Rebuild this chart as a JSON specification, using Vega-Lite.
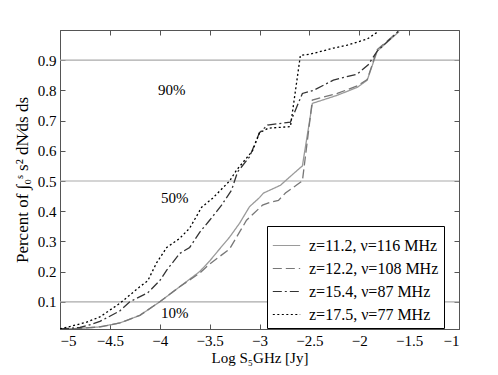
{
  "$schema": "https://vega.github.io/schema/vega-lite/v6.json",
  "width": 399,
  "height": 299,
  "autosize": {"type": "none"},
  "padding": {"left": 60, "top": 30, "right": 39, "bottom": 46},
  "background": "white",
  "config": {
    "view": {"stroke": "#555", "strokeWidth": 1},
    "font": "Liberation Serif",
    "axis": {
      "labelFont": "Liberation Serif", "titleFont": "Liberation Serif",
      "labelFontSize": 15, "titleFontSize": 15, "titleFontWeight": "normal",
      "labelColor": "black", "titleColor": "black",
      "domainColor": "#555", "tickColor": "#555", "tickSize": -5,
      "grid": false
    },
    "legend": {
      "orient": "none", "legendX": 207, "legendY": 196,
      "strokeColor": "black", "fillColor": "white", "padding": 5,
      "labelFont": "Liberation Serif", "labelFontSize": 16, "labelColor": "black", "labelOffset": 8,
      "symbolType": "stroke", "symbolSize": 750, "symbolStrokeWidth": 1.2,
      "rowPadding": 0, "title": null
    }
  },
  "datasets": {
    "curves": [
      {"s": "z=11.2, ν=116 MHz", "x": -5.0, "y": 0.01},
      {"s": "z=11.2, ν=116 MHz", "x": -4.8, "y": 0.012},
      {"s": "z=11.2, ν=116 MHz", "x": -4.6, "y": 0.017},
      {"s": "z=11.2, ν=116 MHz", "x": -4.4, "y": 0.03},
      {"s": "z=11.2, ν=116 MHz", "x": -4.2, "y": 0.055},
      {"s": "z=11.2, ν=116 MHz", "x": -4.0, "y": 0.10},
      {"s": "z=11.2, ν=116 MHz", "x": -3.8, "y": 0.15},
      {"s": "z=11.2, ν=116 MHz", "x": -3.6, "y": 0.20},
      {"s": "z=11.2, ν=116 MHz", "x": -3.5, "y": 0.235},
      {"s": "z=11.2, ν=116 MHz", "x": -3.4, "y": 0.275},
      {"s": "z=11.2, ν=116 MHz", "x": -3.3, "y": 0.314},
      {"s": "z=11.2, ν=116 MHz", "x": -3.2, "y": 0.36},
      {"s": "z=11.2, ν=116 MHz", "x": -3.1, "y": 0.415},
      {"s": "z=11.2, ν=116 MHz", "x": -3.0, "y": 0.445},
      {"s": "z=11.2, ν=116 MHz", "x": -2.96, "y": 0.46},
      {"s": "z=11.2, ν=116 MHz", "x": -2.79, "y": 0.486},
      {"s": "z=11.2, ν=116 MHz", "x": -2.64, "y": 0.53},
      {"s": "z=11.2, ν=116 MHz", "x": -2.57, "y": 0.55},
      {"s": "z=11.2, ν=116 MHz", "x": -2.47, "y": 0.757},
      {"s": "z=11.2, ν=116 MHz", "x": -2.22, "y": 0.784},
      {"s": "z=11.2, ν=116 MHz", "x": -2.02, "y": 0.81},
      {"s": "z=11.2, ν=116 MHz", "x": -1.92, "y": 0.834},
      {"s": "z=11.2, ν=116 MHz", "x": -1.82, "y": 0.93},
      {"s": "z=11.2, ν=116 MHz", "x": -1.6, "y": 0.995},

      {"s": "z=12.2, ν=108 MHz", "x": -5.0, "y": 0.01},
      {"s": "z=12.2, ν=108 MHz", "x": -4.8, "y": 0.012},
      {"s": "z=12.2, ν=108 MHz", "x": -4.6, "y": 0.017},
      {"s": "z=12.2, ν=108 MHz", "x": -4.4, "y": 0.03},
      {"s": "z=12.2, ν=108 MHz", "x": -4.2, "y": 0.055},
      {"s": "z=12.2, ν=108 MHz", "x": -4.0, "y": 0.10},
      {"s": "z=12.2, ν=108 MHz", "x": -3.8, "y": 0.15},
      {"s": "z=12.2, ν=108 MHz", "x": -3.6, "y": 0.195},
      {"s": "z=12.2, ν=108 MHz", "x": -3.5, "y": 0.225},
      {"s": "z=12.2, ν=108 MHz", "x": -3.4, "y": 0.25},
      {"s": "z=12.2, ν=108 MHz", "x": -3.3, "y": 0.275},
      {"s": "z=12.2, ν=108 MHz", "x": -3.13, "y": 0.37},
      {"s": "z=12.2, ν=108 MHz", "x": -2.97, "y": 0.42},
      {"s": "z=12.2, ν=108 MHz", "x": -2.89, "y": 0.43},
      {"s": "z=12.2, ν=108 MHz", "x": -2.81, "y": 0.436},
      {"s": "z=12.2, ν=108 MHz", "x": -2.74, "y": 0.46},
      {"s": "z=12.2, ν=108 MHz", "x": -2.59, "y": 0.496},
      {"s": "z=12.2, ν=108 MHz", "x": -2.57, "y": 0.50},
      {"s": "z=12.2, ν=108 MHz", "x": -2.47, "y": 0.768},
      {"s": "z=12.2, ν=108 MHz", "x": -2.22, "y": 0.79},
      {"s": "z=12.2, ν=108 MHz", "x": -2.02, "y": 0.815},
      {"s": "z=12.2, ν=108 MHz", "x": -1.92, "y": 0.836},
      {"s": "z=12.2, ν=108 MHz", "x": -1.82, "y": 0.935},
      {"s": "z=12.2, ν=108 MHz", "x": -1.61, "y": 0.995},

      {"s": "z=15.4, ν=87 MHz", "x": -5.0, "y": 0.01},
      {"s": "z=15.4, ν=87 MHz", "x": -4.8, "y": 0.015},
      {"s": "z=15.4, ν=87 MHz", "x": -4.72, "y": 0.022},
      {"s": "z=15.4, ν=87 MHz", "x": -4.6, "y": 0.035},
      {"s": "z=15.4, ν=87 MHz", "x": -4.4, "y": 0.07},
      {"s": "z=15.4, ν=87 MHz", "x": -4.3, "y": 0.10},
      {"s": "z=15.4, ν=87 MHz", "x": -4.12, "y": 0.13},
      {"s": "z=15.4, ν=87 MHz", "x": -4.0, "y": 0.17},
      {"s": "z=15.4, ν=87 MHz", "x": -3.93, "y": 0.205},
      {"s": "z=15.4, ν=87 MHz", "x": -3.8, "y": 0.26},
      {"s": "z=15.4, ν=87 MHz", "x": -3.7, "y": 0.28},
      {"s": "z=15.4, ν=87 MHz", "x": -3.6, "y": 0.33},
      {"s": "z=15.4, ν=87 MHz", "x": -3.5, "y": 0.37},
      {"s": "z=15.4, ν=87 MHz", "x": -3.38, "y": 0.42},
      {"s": "z=15.4, ν=87 MHz", "x": -3.28, "y": 0.47},
      {"s": "z=15.4, ν=87 MHz", "x": -3.22, "y": 0.53},
      {"s": "z=15.4, ν=87 MHz", "x": -3.1, "y": 0.58},
      {"s": "z=15.4, ν=87 MHz", "x": -3.0, "y": 0.66},
      {"s": "z=15.4, ν=87 MHz", "x": -2.92, "y": 0.685},
      {"s": "z=15.4, ν=87 MHz", "x": -2.69, "y": 0.695},
      {"s": "z=15.4, ν=87 MHz", "x": -2.57, "y": 0.79},
      {"s": "z=15.4, ν=87 MHz", "x": -2.46, "y": 0.80},
      {"s": "z=15.4, ν=87 MHz", "x": -2.26, "y": 0.834},
      {"s": "z=15.4, ν=87 MHz", "x": -2.02, "y": 0.854},
      {"s": "z=15.4, ν=87 MHz", "x": -1.91, "y": 0.885},
      {"s": "z=15.4, ν=87 MHz", "x": -1.82, "y": 0.93},
      {"s": "z=15.4, ν=87 MHz", "x": -1.61, "y": 0.995},

      {"s": "z=17.5, ν=77 MHz", "x": -5.0, "y": 0.01},
      {"s": "z=17.5, ν=77 MHz", "x": -4.74, "y": 0.032},
      {"s": "z=17.5, ν=77 MHz", "x": -4.6, "y": 0.05},
      {"s": "z=17.5, ν=77 MHz", "x": -4.4, "y": 0.095},
      {"s": "z=17.5, ν=77 MHz", "x": -4.2, "y": 0.15},
      {"s": "z=17.5, ν=77 MHz", "x": -4.12, "y": 0.17},
      {"s": "z=17.5, ν=77 MHz", "x": -4.03, "y": 0.23},
      {"s": "z=17.5, ν=77 MHz", "x": -3.93, "y": 0.28},
      {"s": "z=17.5, ν=77 MHz", "x": -3.8, "y": 0.31},
      {"s": "z=17.5, ν=77 MHz", "x": -3.7, "y": 0.344},
      {"s": "z=17.5, ν=77 MHz", "x": -3.58, "y": 0.413},
      {"s": "z=17.5, ν=77 MHz", "x": -3.47, "y": 0.443},
      {"s": "z=17.5, ν=77 MHz", "x": -3.3, "y": 0.50},
      {"s": "z=17.5, ν=77 MHz", "x": -3.23, "y": 0.536},
      {"s": "z=17.5, ν=77 MHz", "x": -3.07, "y": 0.60},
      {"s": "z=17.5, ν=77 MHz", "x": -3.0, "y": 0.66},
      {"s": "z=17.5, ν=77 MHz", "x": -2.91, "y": 0.675},
      {"s": "z=17.5, ν=77 MHz", "x": -2.69, "y": 0.68},
      {"s": "z=17.5, ν=77 MHz", "x": -2.59, "y": 0.916},
      {"s": "z=17.5, ν=77 MHz", "x": -2.49, "y": 0.92},
      {"s": "z=17.5, ν=77 MHz", "x": -2.26, "y": 0.94},
      {"s": "z=17.5, ν=77 MHz", "x": -2.12, "y": 0.95},
      {"s": "z=17.5, ν=77 MHz", "x": -1.92, "y": 0.97},
      {"s": "z=17.5, ν=77 MHz", "x": -1.81, "y": 0.995}
    ],
    "grid": [{"g": 0.1}, {"g": 0.5}, {"g": 0.9}],
    "notes": [
      {"label": "90%", "x": -3.88, "y": 0.80},
      {"label": "50%", "x": -3.85, "y": 0.443},
      {"label": "10%", "x": -3.85, "y": 0.063}
    ]
  },
  "layer": [
    {
      "data": {"name": "grid"},
      "mark": {"type": "rule", "color": "#aaaaaa", "strokeWidth": 1.2},
      "encoding": {
        "y": {"field": "g", "type": "quantitative", "scale": {"domain": [0.01, 1.0], "nice": false, "zero": false}, "axis": null}
      }
    },
    {
      "data": {"name": "curves"},
      "mark": {"type": "line", "strokeWidth": 1.3, "clip": true},
      "encoding": {
        "x": {"field": "x", "type": "quantitative",
              "scale": {"domain": [-5, -1], "nice": false, "zero": false},
              "axis": {"orient": "bottom", "values": [-5, -4.5, -4, -3.5, -3, -2.5, -2, -1.5, -1], "format": "~g",
                       "title": "Log S₅GHz [Jy]", "labelPadding": 9, "titlePadding": 2}},
        "y": {"field": "y", "type": "quantitative",
              "scale": {"domain": [0.01, 1.0], "nice": false, "zero": false},
              "axis": {"orient": "left", "values": [0.1, 0.2, 0.3, 0.4, 0.5, 0.6, 0.7, 0.8, 0.9], "format": "~g",
                       "title": "Percent of ∫₀ˢ s² dN⁄ds ds", "titleFontSize": 17, "labelPadding": 9, "titlePadding": 6}},
        "color": {"field": "s", "type": "nominal",
                  "scale": {"domain": ["z=11.2, ν=116 MHz", "z=12.2, ν=108 MHz", "z=15.4, ν=87 MHz", "z=17.5, ν=77 MHz"],
                            "range": ["#9a9a9a", "#777777", "#333333", "#000000"]}},
        "strokeDash": {"field": "s", "type": "nominal",
                  "scale": {"domain": ["z=11.2, ν=116 MHz", "z=12.2, ν=108 MHz", "z=15.4, ν=87 MHz", "z=17.5, ν=77 MHz"],
                            "range": [[1, 0], [9, 4], [9, 3, 2, 3], [2, 2.5]]}}
      }
    },
    {
      "data": {"name": "notes"},
      "mark": {"type": "text", "font": "Liberation Serif", "fontSize": 15, "color": "black"},
      "encoding": {
        "x": {"field": "x", "type": "quantitative", "scale": {"domain": [-5, -1], "nice": false, "zero": false}, "axis": null},
        "y": {"field": "y", "type": "quantitative", "scale": {"domain": [0.01, 1.0], "nice": false, "zero": false}, "axis": null},
        "text": {"field": "label"}
      }
    },
    {
      "data": {"name": "grid"},
      "mark": {"type": "rule", "opacity": 0},
      "encoding": {
        "x": {"datum": -1, "type": "quantitative", "scale": {"domain": [-5, -1], "nice": false, "zero": false},
              "axis": {"orient": "top", "values": [-5, -4.5, -4, -3.5, -3, -2.5, -2, -1.5, -1], "labels": false, "title": null, "domain": false}},
        "y": {"field": "g", "type": "quantitative", "scale": {"domain": [0.01, 1.0], "nice": false, "zero": false},
              "axis": {"orient": "right", "values": [0.1, 0.2, 0.3, 0.4, 0.5, 0.6, 0.7, 0.8, 0.9], "labels": false, "title": null, "domain": false}}
      }
    }
  ],
  "resolve": {"axis": {"x": "independent", "y": "independent"}}
}
